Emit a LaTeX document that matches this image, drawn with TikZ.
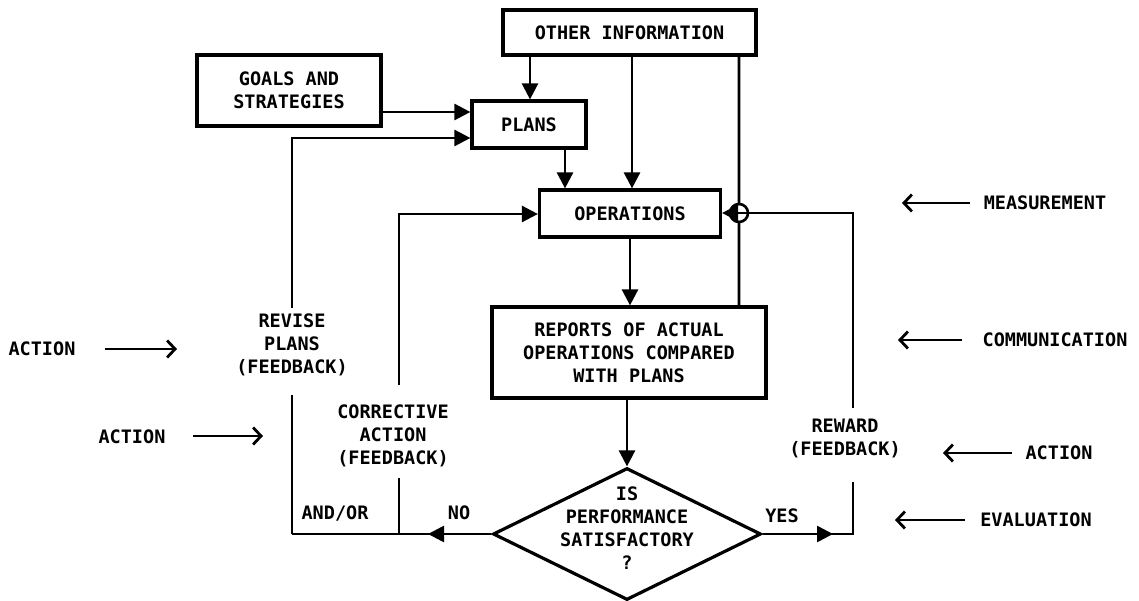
\documentclass[tikz,border=0pt]{standalone}
\usepackage{fontspec}
\setmainfont{DejaVu Sans Mono}
\usetikzlibrary{arrows.meta,shapes.geometric}
\begin{document}
\begin{tikzpicture}[x=1pt,y=-1pt,
  every node/.style={font=\fontsize{18.5}{23}\selectfont\bfseries, align=center, inner sep=0pt},
  box/.style={draw, line width=3.2pt},
  conn/.style={line width=2.6pt},
  tri/.style={-{Triangle[length=16pt,width=16pt]}},
  barb/.style={line width=2.8pt, -{Straight Barb[length=8pt,width=17pt]}},
]
\useasboundingbox (0,0) rectangle (1139,601);

% boxes
\node[box, minimum width=253pt, minimum height=45pt] (oi) at (629.5,32.5) {OTHER INFORMATION};
\node[box, minimum width=184pt, minimum height=71pt] (goals) at (289,90.5) {GOALS AND\\STRATEGIES};
\node[box, minimum width=114pt, minimum height=47pt] (plans) at (529,124.5) {PLANS};
\node[box, minimum width=181pt, minimum height=47pt] (ops) at (630,213.5) {OPERATIONS};
\node[box, minimum width=274pt, minimum height=91pt] (rep) at (629,352.5) {REPORTS OF ACTUAL\\OPERATIONS COMPARED\\WITH PLANS};
\node[draw, diamond, line width=3.2pt, minimum width=268pt, minimum height=132pt] (dec) at (627,534) {};
\node (dectext) at (627,528) {IS\\PERFORMANCE\\SATISFACTORY\\?};

% labels on feedback lines
\node (revise) at (292,345) {REVISE\\PLANS\\(FEEDBACK)};
\node (corr) at (393,436) {CORRECTIVE\\ACTION\\(FEEDBACK)};
\node (reward) at (845,438) {REWARD\\(FEEDBACK)};
\node (andor) at (335,513) {AND/OR};
\node (no) at (459,513) {NO};
\node (yes) at (782,516) {YES};

% x positions
\coordinate (x530) at (530,0);
\coordinate (x565) at (565,0);
\coordinate (x632) at (632,0);
\coordinate (x630) at (630,0);
\coordinate (x627) at (627,0);
\coordinate (x739) at (739,0);
\coordinate (yG) at (0,112);

% top flows
\draw[conn,tri] (x530 |- oi.south) -- (x530 |- plans.north);
\draw[conn,tri] (x632 |- oi.south) -- (x632 |- ops.north);
\draw[conn,tri] (x565 |- plans.south) -- (x565 |- ops.north);
\draw[conn,tri] (goals.east |- yG) -- (plans.west |- yG);
\draw[conn,tri] (x630 |- ops.south) -- (x630 |- rep.north);
\draw[conn,tri] (x627 |- rep.south) -- (dec.north);

% revise plans feedback
\coordinate (rA) at (292,138);
\coordinate (rB) at (292,308);
\coordinate (rC) at (292,395);
\coordinate (rD) at (292,534);
\draw[conn,tri] (rB) -- (rA) -- (plans.west |- rA);
\draw[conn] (rD) -- (rC);

% corrective action feedback
\coordinate (cA) at (399,214);
\coordinate (cB) at (399,385);
\coordinate (cC) at (399,478);
\coordinate (cD) at (399,534);
\draw[conn,tri] (cB) -- (cA) -- (ops.west |- cA);
\draw[conn] (cD) -- (cC);

% NO branch
\coordinate (noTip) at (428,534);
\draw[conn] (dec.west) -- (rD);
\draw[conn,tri] (dec.west) -- (noTip);

% YES branch / reward
\coordinate (yesTip) at (833,534);
\coordinate (yA) at (853,534);
\coordinate (yB) at (853,482);
\coordinate (yC) at (853,408);
\coordinate (yD) at (853,213);
\draw[conn] (dec.east) -- (yA) -- (yB);
\draw[conn,tri] (dec.east) -- (yesTip);
\draw[conn,tri] (yC) -- (yD) -- (ops.east |- yD);

% other information to reports, with hop
\coordinate (hA) at (739,204);
\coordinate (hB) at (739,222);
\draw[conn] (x739 |- oi.south) -- (hA) arc[start angle=90, end angle=-90, radius=9pt] -- (x739 |- rep.north);
\draw[conn] (hA) arc[start angle=90, end angle=270, radius=9pt];

% side annotations
\node (actL1) at (42,349) {ACTION};
\coordinate (aL1s) at (105,349); \coordinate (aL1e) at (177,349);
\draw[barb] (aL1s) -- (aL1e);
\node (actL2) at (132,437) {ACTION};
\coordinate (aL2s) at (193,436); \coordinate (aL2e) at (263,436);
\draw[barb] (aL2s) -- (aL2e);

\node (meas) at (1045,203) {MEASUREMENT};
\coordinate (mS) at (970,203); \coordinate (mE) at (902,203);
\draw[barb] (mS) -- (mE);
\node (comm) at (1055,340) {COMMUNICATION};
\coordinate (cmS) at (962,340); \coordinate (cmE) at (898,340);
\draw[barb] (cmS) -- (cmE);
\node (actR) at (1059,453) {ACTION};
\coordinate (arS) at (1012,453); \coordinate (arE) at (943,453);
\draw[barb] (arS) -- (arE);
\node (eval) at (1036,520) {EVALUATION};
\coordinate (eS) at (965,520); \coordinate (eE) at (895,520);
\draw[barb] (eS) -- (eE);
\end{tikzpicture}
\end{document}
